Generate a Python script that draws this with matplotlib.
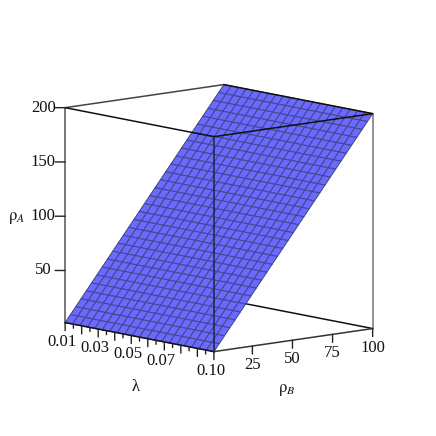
import numpy as np
import matplotlib
matplotlib.use("Agg")
import matplotlib.pyplot as plt
from mpl_toolkits.mplot3d import proj3d

plt.rcParams['font.family'] = ['Liberation Serif', 'DejaVu Sans']
plt.rcParams['mathtext.fontset'] = 'stix'

# surface samples, picture gives rho_a = 2 * rho_b
lam_grid = [0.01, 0.0145, 0.019, 0.0235, 0.028, 0.0325, 0.037, 0.0415, 0.046, 0.0505,
            0.055, 0.0595, 0.064, 0.0685, 0.073, 0.0775, 0.082, 0.0865, 0.091, 0.0955, 0.10]
rho_b_grid = [1, 4.3, 7.6, 10.9, 14.2, 17.5, 20.8, 24.1, 27.4, 30.7, 34, 37.3, 40.6, 43.9, 47.2,
              50.5, 53.8, 57.1, 60.4, 63.7, 67, 70.3, 73.6, 76.9, 80.2, 83.5, 86.8, 90.1, 93.4, 96.7, 100]
rho_a_grid = [2, 8.6, 15.2, 21.8, 28.4, 35, 41.6, 48.2, 54.8, 61.4, 68, 74.6, 81.2, 87.8, 94.4,
              101, 107.6, 114.2, 120.8, 127.4, 134, 140.6, 147.2, 153.8, 160.4, 167, 173.6, 180.2, 186.8, 193.4, 200]

lam_major = [0.01, 0.02, 0.03, 0.04, 0.05, 0.06, 0.07, 0.08, 0.09, 0.10]
lam_minor = [0.015, 0.025, 0.035, 0.045, 0.055, 0.065, 0.075, 0.085, 0.095]
lam_labels = {0.01: "0.01", 0.03: "0.03", 0.05: "0.05", 0.07: "0.07", 0.10: "0.10"}
rho_b_ticks = [25, 50, 75, 100]
rho_a_ticks = [50, 100, 150, 200]

lam_lo, lam_hi = 0.01, 0.10
b_lo, b_hi = 1, 100
a_lo, a_hi = 2, 200

fig = plt.figure(figsize=(4.36, 4.36), dpi=100)
ax = fig.add_axes([-5 / 436, -6 / 436, 1, 1], projection='3d', computed_zorder=False)
ax.set_proj_type('ortho')
ax.view_init(elev=9.7, azim=-40.8)
ax.set_xlim(lam_lo, lam_hi, view_margin=0)
ax.set_ylim(b_lo, b_hi, view_margin=0)
ax.set_zlim(a_lo, a_hi, view_margin=0)
ax.set_box_aspect((226.6, 208.7, 217), zoom=0.843)
ax.set_axis_off()

def edge(p, q, color='#111111', lw=1.1, z=1):
    ax.plot([p[0], q[0]], [p[1], q[1]], [p[2], q[2]], color=color, lw=lw, zorder=z, solid_capstyle='round')

# back edges go under the surface
edge((lam_lo, b_hi, a_lo), (lam_lo, b_lo, a_lo))
edge((lam_lo, b_hi, a_lo), (lam_hi, b_hi, a_lo))
edge((lam_lo, b_hi, a_hi), (lam_lo, b_lo, a_hi), color='#444444')
edge((lam_lo, b_lo, a_lo), (lam_lo, b_lo, a_hi), color='#555555')
edge((lam_hi, b_hi, a_lo), (lam_hi, b_hi, a_hi), color='#777777')

L, B = np.meshgrid(lam_grid, rho_b_grid)
A = np.tile(rho_a_grid, (len(lam_grid), 1)).T
ax.plot_surface(L, B, A, rstride=1, cstride=1, color='#6A6AFF', shade=False,
                edgecolor='#46468F', linewidth=0.75, antialiased=True, zorder=2)

# front edges on top of it
edge((lam_lo, b_lo, a_lo), (lam_hi, b_lo, a_lo), z=3)
edge((lam_hi, b_lo, a_lo), (lam_hi, b_hi, a_lo), color='#333333', z=3)
edge((lam_lo, b_lo, a_hi), (lam_hi, b_lo, a_hi), z=3)
edge((lam_hi, b_lo, a_hi), (lam_hi, b_hi, a_hi), z=3)
edge((lam_hi, b_lo, a_lo), (lam_hi, b_lo, a_hi), color='#222244', z=3)
edge((lam_lo, b_hi, a_hi), (lam_hi, b_hi, a_hi), z=3)

M = ax.get_proj()

def to_2d(x, y, z):
    px, py, _ = proj3d.proj_transform(x, y, z, M)
    return float(px), float(py)

def tick(x, y, z, dx, dy, label=None, tx=0, ty=0, size=12):
    xy = to_2d(x, y, z)
    ax.annotate("", xy=xy, xytext=(dx, dy), textcoords='offset pixels',
                arrowprops=dict(arrowstyle='-', color='#222222', lw=1.0, shrinkA=0, shrinkB=0))
    if label:
        ax.annotate(label, xy=xy, xytext=(tx, ty), textcoords='offset pixels',
                    ha='center', va='center', fontsize=size, color='#111111')

for v in lam_major:
    tick(v, b_lo, a_lo, 0, -8, lam_labels.get(v), -3, -19)
for v in lam_minor:
    tick(v, b_lo, a_lo, 0, -4)
for v in rho_b_ticks:
    tick(lam_hi, v, a_lo, 0, -8, str(v), 0, -19)
for v in rho_a_ticks:
    tick(lam_lo, b_lo, v, -10, 0, str(v), -22, 0)

fig.text(136 / 436, 1 - 387 / 436, "λ", ha='center', va='center', fontsize=12, color='#111111')
fig.text(287 / 436, 1 - 390 / 436, r"$\mathrm{\rho}_{B}$", ha='center', va='center', fontsize=12, color='#111111')
fig.text(17 / 436, 1 - 218 / 436, r"$\mathrm{\rho}_{A}$", ha='center', va='center', fontsize=12, color='#111111')

fig.savefig("out.png", dpi=100)
